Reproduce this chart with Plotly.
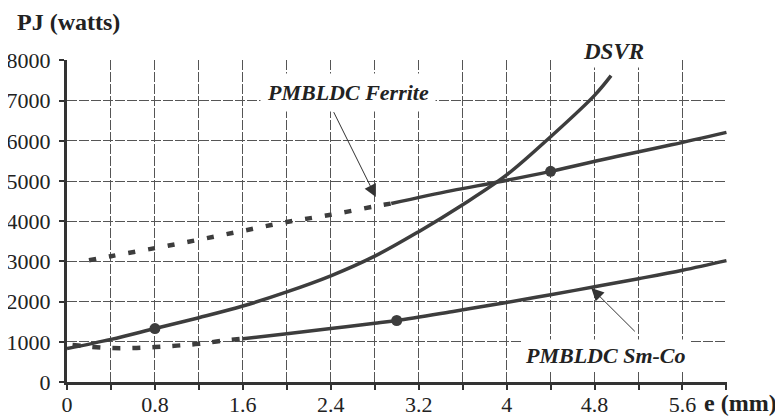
import plotly.graph_objects as go

# ---- data ----
dsvr_x = [0, 0.4, 0.8, 1.2, 1.6, 2.0, 2.4, 2.8, 3.2, 3.6, 4.0, 4.4, 4.8, 4.95]
dsvr_y = [830, 1060, 1330, 1600, 1890, 2240, 2640, 3130, 3740, 4410, 5150, 6100, 7130, 7620]

ferrite_dash_x = [0.2, 0.4, 0.8, 1.2, 1.6, 2.0, 2.4, 2.8, 2.95]
ferrite_dash_y = [3030, 3130, 3330, 3540, 3760, 3980, 4160, 4370, 4440]
ferrite_solid_x = [2.95, 3.5, 3.92, 4.4, 5.0, 5.5, 6.0]
ferrite_solid_y = [4440, 4760, 4975, 5240, 5610, 5900, 6210]

smco_dash_x = [0.05, 0.2, 0.4, 0.6, 0.8, 1.0, 1.2, 1.4, 1.6]
smco_dash_y = [920, 880, 845, 845, 870, 905, 950, 1020, 1075]
smco_solid_x = [1.6, 2.0, 2.4, 2.8, 3.0, 3.5, 4.0, 4.4, 4.8, 5.2, 5.6, 6.0]
smco_solid_y = [1075, 1200, 1330, 1460, 1530, 1750, 1980, 2170, 2370, 2570, 2780, 3020]

marker_x = [0.8, 4.4, 3.0]
marker_y = [1330, 5240, 1530]

x_tickvals = [0, 0.4, 0.8, 1.2, 1.6, 2.0, 2.4, 2.8, 3.2, 3.6, 4.0, 4.4, 4.8, 5.2, 5.6, 6.0]
x_ticktext = ["0", "", "0.8", "", "1.6", "", "2.4", "", "3.2", "", "4", "", "4.8", "", "5.6", ""]
y_tickvals = [0, 1000, 2000, 3000, 4000, 5000, 6000, 7000, 8000]
y_ticktext = ["0", "1000", "2000", "3000", "4000", "5000", "6000", "7000", "8000"]

LINE = "#3d3d3d"
SERIF = "Liberation Serif, Times New Roman, serif"

fig = go.Figure()
fig.add_trace(go.Scatter(x=dsvr_x, y=dsvr_y, mode="lines",
                         line=dict(color=LINE, width=3.5, shape="spline"), showlegend=False))
fig.add_trace(go.Scatter(x=ferrite_dash_x, y=ferrite_dash_y, mode="lines",
                         line=dict(color=LINE, width=4.5, dash="7px,13px", shape="spline"), showlegend=False))
fig.add_trace(go.Scatter(x=ferrite_solid_x, y=ferrite_solid_y, mode="lines",
                         line=dict(color=LINE, width=3.5, shape="spline"), showlegend=False))
fig.add_trace(go.Scatter(x=smco_dash_x, y=smco_dash_y, mode="lines",
                         line=dict(color=LINE, width=4.5, dash="8px,12px", shape="spline"), showlegend=False))
fig.add_trace(go.Scatter(x=smco_solid_x, y=smco_solid_y, mode="lines",
                         line=dict(color=LINE, width=3.5, shape="spline"), showlegend=False))
fig.add_trace(go.Scatter(x=marker_x, y=marker_y, mode="markers",
                         marker=dict(color=LINE, size=11, symbol="circle"), showlegend=False))

ann_font = dict(family=SERIF, size=22, color="#222")
# paper coords: plot area spans page x 67..727 px, page y 382..60 px
fig.add_annotation(x=(613 - 67) / 660, y=(382 - 52) / 322, xref="paper", yref="paper",
                   xanchor="center", yanchor="middle",
                   text="<b><i>DSVR</i></b>",
                   showarrow=False, font=dict(family=SERIF, size=23, color="#222"),
                   bgcolor="white", borderpad=3)
fig.add_annotation(x=2.56, y=7200, xref="x", yref="y", xanchor="center", yanchor="middle",
                   text="<b><i>PMBLDC Ferrite</i></b>",
                   showarrow=False, font=ann_font, bgcolor="white", borderpad=6)
fig.add_annotation(x=4.9, y=660, xref="x", yref="y", xanchor="center", yanchor="middle",
                   text="<b><i>PMBLDC Sm-Co</i></b>",
                   showarrow=False, font=ann_font, bgcolor="white", borderpad=3)
# arrows
fig.add_annotation(x=2.81, y=4600, ax=2.42, ay=6750, xref="x", yref="y", axref="x", ayref="y",
                   text="", showarrow=True, arrowhead=2, arrowsize=2.5, arrowwidth=1, arrowcolor="#333")
fig.add_annotation(x=4.77, y=2338, ax=5.18, ay=1222, xref="x", yref="y", axref="x", ayref="y",
                   text="", showarrow=True, arrowhead=2, arrowsize=2.5, arrowwidth=1, arrowcolor="#333")
# axis titles
fig.add_annotation(x=(15 - 67) / 660, y=(382 - 22) / 322, xref="paper", yref="paper",
                   xanchor="left", yanchor="middle",
                   text="<b>PJ (watts)</b>", showarrow=False,
                   font=dict(family=SERIF, size=24, color="#222"))
fig.add_annotation(x=(702 - 67) / 660, y=(382 - 403) / 322, xref="paper", yref="paper",
                   xanchor="left", yanchor="middle",
                   text="<b>e (mm)</b>", showarrow=False,
                   font=dict(family=SERIF, size=24, color="#222"))

fig.update_xaxes(range=[0, 6.005], tickvals=x_tickvals, ticktext=x_ticktext, automargin=False,
                 showgrid=True, gridcolor="#555", gridwidth=1, griddash="10px,2px",
                 showline=True, linecolor="#333", linewidth=3, zeroline=False,
                 ticks="outside", ticklen=5, tickwidth=2, tickcolor="#333",
                 ticklabelstandoff=-4,
                 tickfont=dict(family=SERIF, size=22, color="#222"))
fig.update_yaxes(range=[0, 8010], tickvals=y_tickvals, ticktext=y_ticktext, automargin=False,
                 showgrid=True, gridcolor="#555", gridwidth=1, griddash="10px,2px",
                 showline=True, linecolor="#333", linewidth=3, zeroline=False,
                 ticks="outside", ticklen=5, tickwidth=2, tickcolor="#333",
                 ticklabelstandoff=4,
                 tickfont=dict(family=SERIF, size=22, color="#222"))

# the page body adds an 8px offset, so the figure is 8px smaller each way
fig.update_layout(width=775, height=408, margin=dict(l=59, r=56, t=52, b=34, autoexpand=False),
                  plot_bgcolor="white", paper_bgcolor="white", showlegend=False)

fig.write_html("out.html")
